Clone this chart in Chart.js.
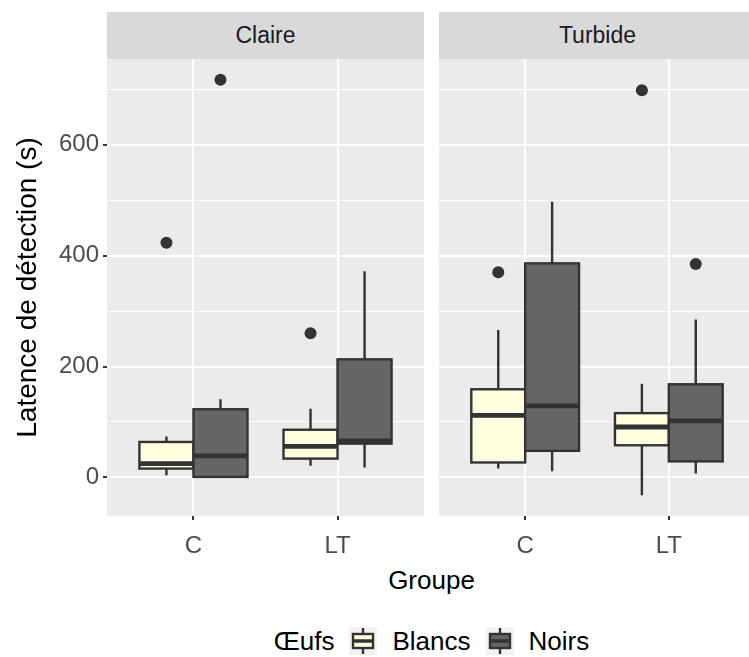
<!DOCTYPE html>
<html>
<head>
<meta charset="utf-8">
<script src="https://cdn.jsdelivr.net/npm/chart.js@4.4.1/dist/chart.umd.min.js"></script>
<style>
  html, body { margin: 0; padding: 0; background: #fff; overflow: hidden; width: 749px; height: 657px; }
  body { position: relative; font-family: "Liberation Sans", Arial, sans-serif; }
  .panel { position: absolute; top: 0; height: 560px; }
  .strip { position: absolute; top: 12px; height: 47px; line-height: 47px; background: #D9D9D9;
           color: #1A1A1A; font-size: 23px; text-align: center; }
  #xtitle { position: absolute; left: 107px; width: 649px; top: 565px; text-align: center; font-size: 26px; color: #000; }
  #legend { position: absolute; left: 107px; width: 649px; top: 627px; height: 28px; display: flex;
            justify-content: center; align-items: center; font-size: 26px; color: #000; }
  #legend svg { margin: 0 15px; }
</style>
</head>
<body>
<div class="panel" style="left:0; width:431px;"><canvas id="claireChart"></canvas></div>
<div class="panel" style="left:431px; width:330px;"><canvas id="turbideChart"></canvas></div>
<div class="strip" style="left:107px; width:317px;">Claire</div>
<div class="strip" style="left:439px; width:317px;">Turbide</div>
<div id="xtitle">Groupe</div>
<div id="legend">
  <span>Œufs</span>
  <svg width="28" height="28"><rect width="28" height="28" fill="#F2F2F2"/><line x1="14" y1="1" x2="14" y2="27" stroke="#333" stroke-width="2.4"/><rect x="4" y="7" width="20" height="14" fill="#FFFFE0" stroke="#333" stroke-width="2.4"/><line x1="4" y1="14" x2="24" y2="14" stroke="#333" stroke-width="3.5"/></svg>
  <span>Blancs</span>
  <svg width="28" height="28"><rect width="28" height="28" fill="#F2F2F2"/><line x1="14" y1="1" x2="14" y2="27" stroke="#333" stroke-width="2.4"/><rect x="4" y="7" width="20" height="14" fill="#666666" stroke="#333" stroke-width="2.4"/><line x1="4" y1="14" x2="24" y2="14" stroke="#333" stroke-width="3.5"/></svg>
  <span>Noirs</span>
</div>

<script>
// categories and tick values
const groups = ['C', 'LT'];
const yLabelTicks = [0, 200, 400, 600];
const yMinorTicks = [100, 300, 500, 700];

// box stats per group: [lower whisker, q1, median, q3, upper whisker]
const claireBlancs = [[4, 16, 25, 64, 74], [21, 34, 56, 86, 124]];
const claireNoirs = [[0, 1, 39, 123, 141], [18, 61, 66, 213, 372]];
const turbideBlancs = [[16, 27, 112, 159, 266], [-32, 58, 91, 116, 169]];
const turbideNoirs = [[11, 48, 129, 386, 497], [7, 29, 102, 168, 285]];

// outliers per group
const claireBlancsOut = [[423], [260]];
const claireNoirsOut = [[717], []];
const turbideBlancsOut = [[370], [698]];
const turbideNoirsOut = [[], [385]];

const blancsFill = '#FFFFE0';
const noirsFill = '#666666';
const lineCol = '#333333';
const dodge = 0.1875;
const boxWidth = 0.375;

// draws panel background, then boxes + whiskers through the chart scales
const boxPlugin = {
  id: 'boxplots',
  beforeDraw(chart) {
    const a = chart.chartArea;
    const ctx = chart.ctx;
    ctx.save();
    ctx.fillStyle = '#EBEBEB';
    ctx.fillRect(a.left, a.top, a.right - a.left, a.bottom - a.top);
    ctx.restore();
  },
  beforeDatasetsDraw(chart, args, opts) {
    const x = chart.scales.x, y = chart.scales.y, ctx = chart.ctx;
    ctx.save();
    ctx.strokeStyle = lineCol;
    opts.series.forEach(s => {
      s.stats.forEach((st, i) => {
        const cx = i + 1 + s.offset;
        const px = x.getPixelForValue(cx);
        const l = x.getPixelForValue(cx - boxWidth / 2);
        const r = x.getPixelForValue(cx + boxWidth / 2);
        const [lo, q1, med, q3, hi] = st.map(v => y.getPixelForValue(v));
        ctx.lineWidth = 2.4;
        ctx.beginPath();
        ctx.moveTo(px, lo); ctx.lineTo(px, q1);
        ctx.moveTo(px, q3); ctx.lineTo(px, hi);
        ctx.stroke();
        ctx.fillStyle = s.fill;
        ctx.fillRect(l, q3, r - l, q1 - q3);
        ctx.strokeRect(l, q3, r - l, q1 - q3);
        ctx.lineWidth = 4.8;
        ctx.beginPath();
        ctx.moveTo(l, med); ctx.lineTo(r, med);
        ctx.stroke();
      });
    });
    ctx.restore();
  }
};

function outlierPoints(bOut, nOut) {
  const pts = [];
  groups.forEach((g, i) => {
    bOut[i].forEach(v => pts.push({ x: i + 1 - dodge, y: v }));
    nOut[i].forEach(v => pts.push({ x: i + 1 + dodge, y: v }));
  });
  return pts;
}

const isMajor = v => yLabelTicks.includes(v);

function makeChart(id, bStats, nStats, bOut, nOut, showY, padding) {
  return new Chart(document.getElementById(id), {
    type: 'scatter',
    data: {
      datasets: [{
        data: outlierPoints(bOut, nOut),
        pointRadius: 6,
        pointHoverRadius: 6,
        backgroundColor: lineCol,
        borderWidth: 0
      }]
    },
    plugins: [boxPlugin],
    options: {
      responsive: true,
      maintainAspectRatio: false,
      animation: false,
      events: [],
      layout: { padding: padding },
      plugins: {
        legend: { display: false },
        tooltip: { enabled: false },
        boxplots: {
          series: [
            { stats: bStats, fill: blancsFill, offset: -dodge },
            { stats: nStats, fill: noirsFill, offset: dodge }
          ]
        }
      },
      scales: {
        x: {
          type: 'linear',
          min: 0.4,
          max: 2.6,
          afterBuildTicks: s => { s.ticks = groups.map((g, i) => ({ value: i + 1 })); },
          afterFit: s => { s.height = 44; },
          border: { display: false },
          grid: { color: '#FFFFFF', lineWidth: 2, tickColor: lineCol, tickLength: 4, tickWidth: 2 },
          ticks: {
            padding: 12,
            color: '#4D4D4D',
            font: { family: 'Liberation Sans', size: 24 },
            callback: v => groups[v - 1]
          }
        },
        y: {
          min: -69.5,
          max: 754.5,
          afterBuildTicks: s => {
            s.ticks = yLabelTicks.concat(yMinorTicks).sort((a, b) => a - b).map(v => ({ value: v }));
          },
          afterFit: s => { s.width = showY ? 107 : 0; },
          border: { display: false },
          grid: {
            color: '#FFFFFF',
            lineWidth: c => (isMajor(c.tick.value) ? 2 : 1),
            drawTicks: showY,
            tickLength: 4,
            tickWidth: 2,
            tickColor: c => (isMajor(c.tick.value) ? lineCol : 'rgba(0,0,0,0)')
          },
          ticks: {
            display: showY,
            padding: 4,
            color: '#4D4D4D',
            font: { family: 'Liberation Sans', size: 24 },
            callback: v => (isMajor(v) ? String(v) : '')
          },
          title: {
            display: showY,
            text: 'Latence de détection (s)',
            color: '#000000',
            font: { family: 'Liberation Sans', size: 28 },
            padding: { top: 11, bottom: 0 }
          }
        }
      }
    }
  });
}

makeChart('claireChart', claireBlancs, claireNoirs, claireBlancsOut, claireNoirsOut, true,
  { top: 59, right: 7, left: 0, bottom: 0 });
makeChart('turbideChart', turbideBlancs, turbideNoirs, turbideBlancsOut, turbideNoirsOut, false,
  { top: 59, right: 5, left: 8, bottom: 0 });
</script>
</body>
</html>
